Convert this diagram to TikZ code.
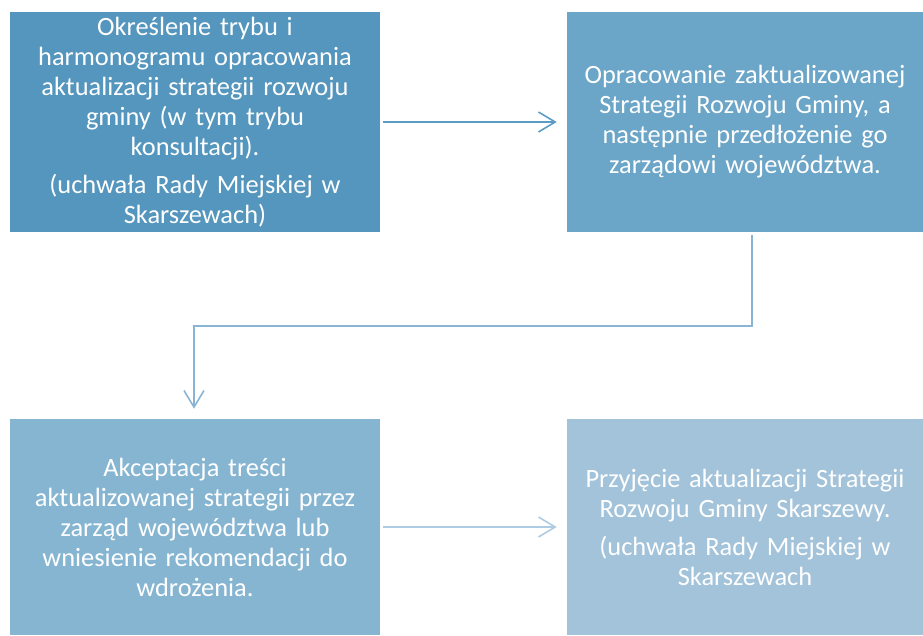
\documentclass[tikz,border=0pt]{standalone}
\usepackage{fontspec}
\setmainfont{Carlito}
\usetikzlibrary{arrows.meta}
\definecolor{cA}{HTML}{5496BD}
\definecolor{cB}{HTML}{6BA5C7}
\definecolor{cC}{HTML}{86B5D2}
\definecolor{cD}{HTML}{A2C3DA}
\definecolor{aA}{HTML}{5A9CC4}
\definecolor{aB}{HTML}{8AB4D4}
\definecolor{aC}{HTML}{B0CCE2}
\begin{document}
\begin{tikzpicture}[x=0.75pt,y=-0.75pt,
  box/.style={draw=none, inner sep=0pt, text=white, align=center,
    font=\fontsize{19.8}{22.5}\selectfont},
  conn/.style={line width=1.2pt, -{Straight Barb[length=12.5pt,width=15pt,line width=1.2pt]}}]
\useasboundingbox (0,0) rectangle (923,635);
\node[box, fill=cA, minimum width=277.5pt, minimum height=165pt, text width=270pt] (b1) at (195,122)
  {Określenie trybu i\\harmonogramu opracowania\\aktualizacji strategii rozwoju\\gminy (w tym trybu\\konsultacji).\\[6pt](uchwała Rady Miejskiej w\\Skarszewach)};
\node[box, fill=cB, minimum width=267pt, minimum height=165pt, text width=262pt] (b2) at (745,122)
  {Opracowanie zaktualizowanej\\Strategii Rozwoju Gminy, a\\następnie przedłożenie go\\zarządowi województwa.};
\node[box, fill=cC, minimum width=277.5pt, minimum height=162pt, text width=270pt] (b3) at (195,527)
  {Akceptacja treści\\aktualizowanej strategii przez\\zarząd województwa lub\\wniesienie rekomendacji do\\wdrożenia.};
\node[box, fill=cD, minimum width=267pt, minimum height=162pt, text width=262pt] (b4) at (745,527)
  {Przyjęcie aktualizacji Strategii\\Rozwoju Gminy Skarszewy.\\[6pt](uchwała Rady Miejskiej w\\Skarszewach};
\coordinate (p1) at (752,326);
\coordinate (p2) at (194,326);
\draw[conn, draw=aA] ([xshift=2.25pt]b1.east) -- ([xshift=-7.5pt]b2.west);
\draw[conn, draw=aB] ([yshift=-2.25pt]b2.south -| p1) -- (p1) -- (p2) -- ([yshift=7.5pt]b3.north -| p2);
\draw[conn, draw=aC] ([xshift=2.25pt]b3.east) -- ([xshift=-7.5pt]b4.west);
\end{tikzpicture}
\end{document}
